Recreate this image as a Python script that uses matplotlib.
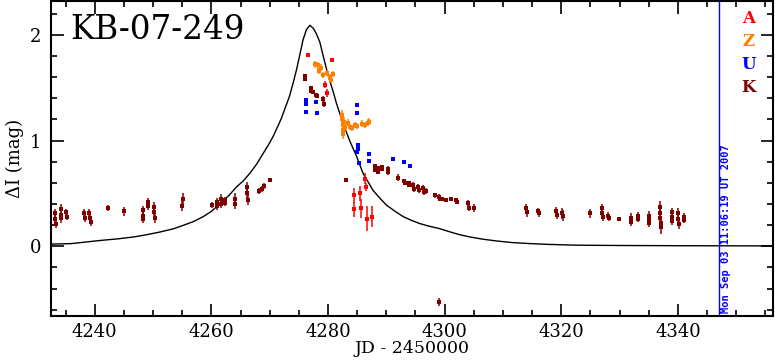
import numpy as np
import matplotlib
matplotlib.use("Agg")
import matplotlib.pyplot as plt
from matplotlib.ticker import MultipleLocator

# model curve
model_x = [4232.5, 4236.0, 4241.0, 4244.0, 4246.7, 4249.0, 4251.3, 4253.5, 4255.3,
           4257.0, 4258.6, 4260.0, 4261.4, 4263.0, 4264.3, 4265.5, 4266.6, 4267.8,
           4268.9, 4269.8, 4270.6, 4271.1, 4271.6, 4272.0, 4272.4, 4273.0, 4273.4,
           4274.0, 4274.6, 4275.2, 4275.7, 4276.3, 4276.9, 4277.5, 4278.0, 4278.6,
           4279.4, 4280.1, 4280.9, 4281.4, 4282.6, 4283.7, 4284.9, 4286.0, 4287.7,
           4288.8, 4290.0, 4291.5, 4292.9, 4294.3, 4295.7, 4297.3, 4298.9, 4300.9,
           4302.5, 4304.3, 4306.5, 4308.9, 4311.5, 4314.6, 4318.0, 4322.6, 4330.0,
           4340.0, 4356.3]
model_y = [0.02, 0.025, 0.055, 0.07, 0.088, 0.11, 0.136, 0.165, 0.20,
           0.235, 0.28, 0.33, 0.40, 0.48, 0.56, 0.62, 0.69, 0.78,
           0.88, 0.96, 1.04, 1.10, 1.16, 1.21, 1.27, 1.36, 1.42,
           1.54, 1.67, 1.82, 1.95, 2.05, 2.09, 2.06, 2.01, 1.93,
           1.75, 1.60, 1.46, 1.36, 1.16, 1.00, 0.85, 0.69, 0.53,
           0.46, 0.39, 0.33, 0.28, 0.245, 0.215, 0.19, 0.17, 0.136,
           0.11, 0.088, 0.067, 0.05, 0.035, 0.025, 0.017, 0.01, 0.007,
           0.005, 0.003]

# K
k_x = [4233.2, 4233.2, 4233.3, 4234.2, 4234.2, 4234.3, 4235.1, 4235.2,
       4238.2, 4238.3, 4239.1, 4239.2, 4239.3, 4242.3, 4245.1,
       4248.2, 4248.2, 4248.3, 4249.1, 4249.2, 4250.2, 4250.2, 4250.3,
       4254.9, 4255.2, 4260.1, 4260.9, 4261.0, 4261.6, 4261.7, 4262.3, 4262.4,
       4264.0, 4264.1, 4266.1, 4266.1, 4266.2, 4268.2, 4268.6, 4269.0, 4270.0,
       4276.0, 4276.1, 4277.0, 4277.1, 4277.5, 4278.0, 4278.1, 4279.2, 4279.3,
       4283.1, 4288.0, 4288.1, 4288.5, 4288.6, 4289.2, 4289.3, 4290.2, 4290.3,
       4292.0, 4293.1, 4293.2, 4293.8, 4293.9, 4294.6, 4294.7, 4295.5, 4295.6,
       4296.3, 4296.4, 4296.8, 4298.3, 4299.1, 4299.2, 4299.1, 4299.6, 4300.3,
       4301.1, 4302.0, 4302.1, 4304.0, 4304.1, 4305.1,
       4314.0, 4314.1, 4316.0, 4316.1, 4319.1, 4319.2, 4320.2, 4320.3,
       4325.0, 4327.0, 4327.0, 4327.1, 4328.0, 4328.1, 4329.9, 4331.9, 4332.0,
       4333.1, 4333.2, 4335.0, 4335.0, 4335.1, 4337.0, 4337.0, 4337.0, 4337.1,
       4337.1, 4338.9, 4339.0, 4339.0, 4340.0, 4340.0, 4340.1, 4341.0, 4341.1]
k_y = [0.31, 0.26, 0.21, 0.35, 0.30, 0.27, 0.32, 0.28,
       0.31, 0.27, 0.31, 0.27, 0.23, 0.36, 0.33,
       0.34, 0.29, 0.26, 0.42, 0.38, 0.37, 0.32, 0.27,
       0.38, 0.45, 0.39, 0.42, 0.38, 0.45, 0.40, 0.44, 0.41,
       0.45, 0.40, 0.56, 0.50, 0.44, 0.52, 0.54, 0.57, 0.63,
       1.61, 1.58, 1.50, 1.47, 1.46, 1.43, 1.42, 1.39, 1.35,
       0.63, 0.76, 0.72, 0.74, 0.70, 0.75, 0.73, 0.73, 0.70,
       0.65, 0.62, 0.60, 0.60, 0.58, 0.58, 0.54, 0.56, 0.53,
       0.55, 0.51, 0.52, 0.48, 0.47, 0.45, -0.53, 0.45, 0.44,
       0.45, 0.44, 0.42, 0.41, 0.36, 0.36,
       0.36, 0.32, 0.33, 0.31, 0.33, 0.30, 0.31, 0.29,
       0.31, 0.36, 0.31, 0.28, 0.29, 0.27, 0.26, 0.27, 0.23,
       0.29, 0.26, 0.29, 0.25, 0.22, 0.37, 0.31, 0.27, 0.22,
       0.18, 0.32, 0.28, 0.24, 0.31, 0.26, 0.21, 0.28, 0.25]
k_e = [0.04, 0.04, 0.04, 0.05, 0.05, 0.05, 0.03, 0.03,
       0.04, 0.04, 0.04, 0.04, 0.04, 0.03, 0.04,
       0.04, 0.04, 0.04, 0.04, 0.04, 0.05, 0.05, 0.05,
       0.05, 0.05, 0.03, 0.04, 0.04, 0.04, 0.04, 0.03, 0.03,
       0.05, 0.05, 0.05, 0.05, 0.05, 0.03, 0.03, 0.03, 0.02,
       0.02, 0.02, 0.02, 0.02, 0.02, 0.02, 0.02, 0.03, 0.03,
       0.02, 0.02, 0.02, 0.02, 0.02, 0.02, 0.02, 0.03, 0.03,
       0.03, 0.02, 0.02, 0.02, 0.02, 0.03, 0.03, 0.03, 0.03,
       0.03, 0.03, 0.03, 0.02, 0.02, 0.02, 0.04, 0.02, 0.02,
       0.02, 0.02, 0.02, 0.03, 0.03, 0.04,
       0.04, 0.04, 0.03, 0.03, 0.04, 0.04, 0.05, 0.05,
       0.04, 0.04, 0.04, 0.04, 0.03, 0.03, 0.02, 0.04, 0.04,
       0.03, 0.03, 0.04, 0.04, 0.04, 0.06, 0.06, 0.06, 0.06,
       0.06, 0.04, 0.04, 0.04, 0.05, 0.05, 0.05, 0.03, 0.03]

# A
a_x = [4276.6, 4280.6, 4279.5, 4279.8, 4284.4, 4284.5, 4285.5, 4285.6,
       4286.4, 4286.5, 4286.7, 4287.5]
a_y = [1.81, 1.76, 1.53, 1.45, 0.48, 0.35, 0.50, 0.36,
       0.64, 0.56, 0.26, 0.28]
a_e = [0.02, 0.02, 0.03, 0.04, 0.07, 0.07, 0.07, 0.09,
       0.05, 0.04, 0.12, 0.10]

# Z
z_x = [4277.7, 4278.2, 4278.5, 4278.8, 4279.1, 4279.9, 4280.3, 4280.5, 4280.8,
       4282.4, 4282.4, 4282.5, 4282.5, 4282.6, 4282.8, 4282.9,
       4283.4, 4283.8, 4284.1, 4284.6, 4285.0, 4285.8, 4286.3, 4286.8, 4287.1]
z_y = [1.72, 1.71, 1.66, 1.69, 1.62, 1.64, 1.60, 1.57, 1.63,
       1.24, 1.20, 1.15, 1.10, 1.06, 1.18, 1.13,
       1.17, 1.13, 1.12, 1.15, 1.14, 1.16, 1.15, 1.17, 1.18]
z_e = [0.03, 0.03, 0.03, 0.03, 0.03, 0.03, 0.03, 0.03, 0.03,
       0.05, 0.05, 0.05, 0.05, 0.05, 0.04, 0.04,
       0.03, 0.03, 0.03, 0.03, 0.03, 0.03, 0.03, 0.03, 0.03]

# U
u_x = [4276.3, 4276.3, 4276.2, 4278.0, 4278.1, 4285.0, 4285.0, 4285.1, 4285.2,
       4285.0, 4285.3, 4287.1, 4287.0, 4291.1, 4293.1, 4294.1]
u_y = [1.38, 1.35, 1.27, 1.36, 1.26, 1.34, 1.26, 0.96, 0.92,
       0.89, 0.79, 0.87, 0.81, 0.83, 0.80, 0.76]
u_e = [0.01] * len(u_x)

obs_names = ["A", "Z", "U", "K"]
obs_colors = ["#ff0000", "#ff8000", "#0000ff", "#800000"]

plt.rcParams['font.family'] = ['DejaVu Serif']

fig = plt.figure(figsize=(7.75, 3.62), dpi=100)
ax = fig.add_axes([51 / 775, 46 / 362, 722 / 775, 315 / 362])

ax.plot(model_x, model_y, color="black", lw=1.0, zorder=2)

series = [(k_x, k_y, k_e, obs_colors[3]),
          (a_x, a_y, a_e, obs_colors[0]),
          (z_x, z_y, z_e, obs_colors[1]),
          (u_x, u_y, u_e, obs_colors[2])]
for xs, ys, es, c in series:
    ax.errorbar(xs, ys, yerr=es, fmt="s", color=c, ms=3.0, mew=0,
                elinewidth=1.1, capsize=1.6, capthick=1.1, zorder=3)

ax.axvline(4347.0, color="#0000ff", lw=1.0)
ax.text(4347.4, -0.63, "Mon Sep 03 11:06:19 UT 2007", rotation=90,
        color="#0000ff", fontsize=7.5, family="DejaVu Sans Mono",
        fontweight="bold", ha="left", va="bottom")

ax.set_xlim(4232.5, 4356.3)
ax.set_ylim(-0.66, 2.32)

ax.xaxis.set_major_locator(MultipleLocator(20))
ax.xaxis.set_minor_locator(MultipleLocator(5))
ax.yaxis.set_major_locator(MultipleLocator(1))
ax.yaxis.set_minor_locator(MultipleLocator(0.2))
ax.tick_params(which="both", direction="in", top=True, right=True, width=1.2)
ax.tick_params(which="major", length=9, labelsize=13)
ax.tick_params(axis="x", which="major", pad=5)
ax.tick_params(axis="y", which="major", pad=7)
ax.tick_params(which="minor", length=4.5)
for s in ax.spines.values():
    s.set_linewidth(1.5)

ax.set_xlabel("JD - 2450000", fontsize=12.5, labelpad=-1)
ax.set_ylabel("ΔI (mag)", fontsize=13, labelpad=4)

ax.text(0.026, 0.96, "KB-07-249", transform=ax.transAxes, fontsize=23.5,
        ha="left", va="top")

for i, (n, c) in enumerate(zip(obs_names, obs_colors)):
    ax.text(0.966, 0.945 - i * 0.073, n, transform=ax.transAxes, color=c,
            fontsize=12, fontweight="bold", ha="center", va="center")

fig.savefig("out.png", dpi=100)
